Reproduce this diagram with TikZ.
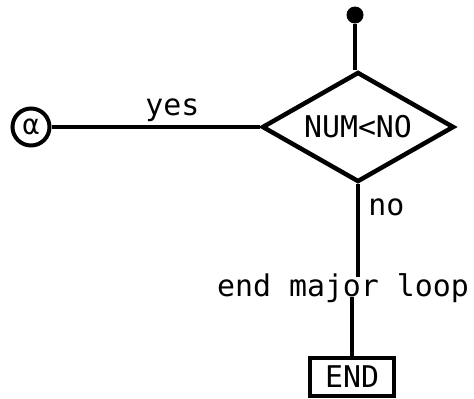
\documentclass[tikz,border=0pt]{standalone}
\usepackage{fontspec}
\newfontfamily\flowfont{DejaVu Sans Mono}
\usetikzlibrary{positioning,shapes.geometric}
\tikzset{
  flow/.style     = {line width=4.5bp},
  startdot/.style = {circle,fill,inner sep=0pt,minimum size=17bp},
  decision/.style = {diamond,draw,flow,inner sep=0pt,aspect=1.75,minimum width=192bp,minimum height=110bp},
  connector/.style= {circle,draw,line width=4bp,inner sep=0pt,minimum size=37bp,font=\flowfont\fontsize{28}{28}\selectfont},
  endbox/.style   = {rectangle,draw,line width=3.5bp,minimum width=84bp,minimum height=38bp},
  lbl/.style      = {inner sep=0pt}
}
\begin{document}
\begin{tikzpicture}[x=1bp,y=-1bp,font=\flowfont\fontsize{30}{32}\selectfont]
  \useasboundingbox (0,0) rectangle (474,398);
  % flowchart nodes
  \node[startdot]  (start) at (355,15)  {};
  \node[decision]  (test)  at (358,127) {NUM<NO};
  \node[connector] (alpha) at (31,127)  {α};
  \node[lbl]       (loop)  at (343,288) {end major loop};
  \node[endbox]    (stop)  at (352,377) {END};
  % connectors
  \draw[flow] (start) -- (start |- test.north);
  \draw[flow] (alpha) -- node[lbl,above=3bp,pos=0.58] (yes) {yes} (test.west);
  \draw[flow] (test.south) -- node[lbl,right=8bp,pos=0.25] (no) {no}
    ([yshift=-4bp]test.south |- loop.north);
  \draw[flow] ([yshift=6bp]stop.north |- loop.south) -- (stop.north);
\end{tikzpicture}
\end{document}
